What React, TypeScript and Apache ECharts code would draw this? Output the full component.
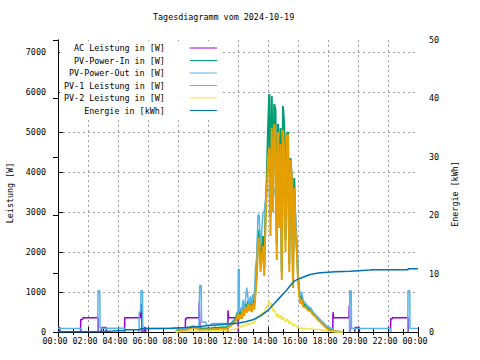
import { useEffect, useRef } from 'react';
import * as echarts from 'echarts';

const FONT = '"DejaVu Sans Mono", "Liberation Mono", monospace';
const FS = 8.4;

const titleText = 'Tagesdiagramm vom 2024-10-19';
const seriesNames = [
  'AC Leistung in [W]',
  'PV-Power-In in [W]',
  'PV-Power-Out in [W]',
  'PV-1 Leistung in [W]',
  'PV-2 Leistung in [W]',
  'Energie in [kWh]',
];
const seriesColors = ['#9400d3', '#009e73', '#56b4e9', '#e69f00', '#f0e442', '#0072b2'];

// AC Leistung (purple)
const acTimes = [
  '00:00', '00:07', '00:08', '00:09', '01:30', '01:31', '01:39', '01:40', '02:40', '02:41', '02:42',
  '02:53', '02:54', '03:13', '03:14', '03:15', '04:26', '04:27', '05:30', '05:31', '05:35', '05:36', '05:37',
  '05:44', '05:45', '05:50', '05:51', '05:52', '08:29', '08:30', '08:34', '08:35', '09:24', '09:25', '09:27', '09:28', '09:29',
  '11:19', '11:20', '11:22', '12:00', '12:01', '12:02', '14:01', '14:03', '14:04', '15:39', '15:41', '15:42',
  '18:19', '18:20', '18:22', '19:24', '19:25', '19:27', '19:28', '19:29', '19:47', '19:48', '20:05', '20:06', '20:07',
  '22:10', '22:11', '22:17', '22:18', '23:20', '23:21',
];
const acValues = [
  110, 110, 0, null, 0, 315, 315, 357, 357, 0, null,
  0, 110, 110, 0, null, 0, 357, 357, 687, 687, 0, null,
  0, 110, 110, 0, null, 0, 330, 330, 357, 357, 745, 745, 0, null,
  0, 540, 357, 357, 0, null, 3590, 3590, null, 3140, 3140, null,
  0, 496, 357, 357, 662, 662, 0, null, 0, 110, 110, 0, null,
  0, 330, 330, 357, 357, 0,
];

// Daytime sample times for PV-In, PV-1, PV-2
const pvTimes = [
  '07:50', '08:00', '08:10', '08:20', '08:30', '08:40', '08:50', '09:00', '09:10', '09:20', '09:30', '09:40', '09:50',
  '10:00', '10:10', '10:20', '10:30', '10:40', '10:50', '11:00', '11:10', '11:20', '11:30', '11:40', '11:50',
  '12:00', '12:05', '12:10', '12:15', '12:20', '12:25', '12:30', '12:35', '12:40', '12:45', '12:50', '12:55',
  '13:00', '13:05', '13:10', '13:15', '13:20', '13:25', '13:30', '13:35', '13:40', '13:45', '13:50', '13:55',
  '14:00', '14:05', '14:10', '14:15', '14:20', '14:25', '14:30', '14:35', '14:40', '14:45', '14:50', '14:55',
  '15:00', '15:05', '15:10', '15:15', '15:20', '15:25', '15:30', '15:35', '15:40', '15:45', '15:50', '15:55',
  '16:00', '16:05', '16:10', '16:15', '16:20', '16:25',
  '16:30', '16:40', '16:50', '17:00', '17:10', '17:20', '17:30', '17:40', '17:50', '18:00', '18:10', '18:20',
  '18:30', '18:40', '18:50', '19:00',
];
const pvInValues = [
  0, 25, 45, 60, 70, 85, 120, 140, 130, 100, 90, 85, 90, 95, 90, 100, 110, 100, 115, 120, 115, 150, 200, 260, 330,
  520, 380, 520, 400, 640, 470, 700, 560, 780, 600, 760, 580,
  820, 650, 1070, 1500, 2450, 2550, 1700, 2050, 2400, 1600, 3000, 3850,
  5080, 5950, 2900, 5900, 3400, 5700, 5550, 2200, 5200, 2900, 5100, 1500,
  5650, 5150, 2300, 4960, 5000, 1700, 4350, 3900, 1300, 3850, 2700, 2150,
  1450, 1000, 800, 900, 720, 680,
  660, 590, 570, 470, 420, 340, 280, 210, 140, 90, 55, 35, 20, 12, 8, 0,
];
const pv1Values = [
  0, 15, 30, 40, 50, 60, 90, 110, 100, 70, 60, 55, 60, 65, 60, 70, 75, 70, 80, 85, 80, 110, 150, 200, 260,
  450, 300, 450, 330, 560, 400, 620, 480, 700, 520, 680, 500,
  720, 560, 950, 1350, 2250, 2350, 1500, 1850, 2150, 1400, 2700, 3500,
  4350, 4600, 2400, 5100, 3000, 5200, 4950, 1800, 5000, 2600, 4700, 1300,
  5050, 4500, 2000, 4900, 4950, 1500, 4300, 3800, 1100, 3600, 2500, 2000,
  1300, 900, 700, 820, 650, 620,
  620, 540, 520, 430, 380, 300, 250, 180, 120, 70, 40, 25, 15, 10, 8, 0,
];
const pv2Values = [
  0, 5, 8, 10, 12, 15, 20, 25, 25, 20, 20, 20, 25, 25, 25, 30, 30, 30, 35, 35, 35, 40, 50, 60, 70,
  120, 100, 140, 130, 170, 150, 190, 170, 220, 180, 230, 200,
  250, 220, 290, 340, 410, 380, 450, 400, 500, 450, 580, 640,
  700, 780, 650, 720, 520, 560, 480, 380, 450, 350, 420, 300,
  380, 330, 250, 320, 300, 200, 260, 220, 150, 200, 170, 130,
  120, 100, 90, 100, 80, 90,
  90, 80, 75, 70, 60, 60, 55, 45, 30, 20, 10, 5, 0, 0, 0, 0,
];

// PV-Power-Out (light blue)
const pvOutTimes = [
  '00:00', '01:33', '01:34', '01:35', '02:39', '02:40', '02:47', '02:48', '02:55', '04:27', '04:28', '04:29',
  '05:24', '05:25', '05:31', '05:32', '05:38', '05:39', '07:50', '08:00', '08:10', '08:20', '08:30', '08:40',
  '08:50', '09:00', '09:10', '09:20', '09:24', '09:25', '09:27', '09:33', '09:34', '09:50', '09:55', '10:10',
  '10:15', '11:20', '11:21', '11:30', '11:40', '11:50', '12:00', '12:01', '12:05', '12:06',
  '12:10', '12:15', '12:20', '12:25', '12:30', '12:35', '12:40', '12:45', '12:50', '12:55',
  '13:00', '13:05', '13:10', '13:15', '13:20', '13:25', '13:30', '13:35', '13:40', '13:45', '13:50', '13:55',
  '14:00', '14:05', '14:10', '14:15', '14:20', '14:25', '14:30', '14:35', '14:40', '14:45', '14:50', '14:55',
  '15:00', '15:05', '15:10', '15:15', '15:20', '15:25', '15:30', '15:35', '15:40', '15:45', '15:50', '15:55',
  '16:00', '16:05', '16:10', '16:15', '16:20', '16:25',
  '16:30', '16:40', '16:50', '17:00', '17:10', '17:20', '17:30', '17:40', '17:50', '18:00', '18:10', '18:19',
  '18:20', '18:21', '19:26', '19:27', '19:33', '19:34', '22:10', '22:11', '22:12', '23:19', '23:20', '23:27',
  '23:28', '24:00',
];
const pvOutValues = [
  88, 88, 0, null, 0, 1034, 1034, 110, 95, 95, 0, null,
  0, 500, 500, 1034, 1034, 88, 88, 70, 75, 80, 85, 70,
  100, 125, 115, 90, 90, 600, 1160, 1160, 250, 250, 170, 165,
  210, 210, 140, 170, 230, 300, 350, 1570, 1570, 500,
  600, 480, 800, 560, 820, 1110, 850, 680, 900, 700,
  950, 780, 1600, 1900, 2940, 2900, 2100, 2500, 2980, 3020, 3300, 3560,
  3560, 3560, 2900, 3560, 3300, 3560, 3560, 2200, 3560, 2900, 3560, 1600,
  3560, 3560, 2400, 3560, 3560, 1800, 3560, 3560, 1400, 3560, 2900, 2300,
  1500, 1100, 900, 1000, 800, 760,
  720, 640, 600, 500, 430, 370, 300, 240, 180, 130, 100, 85,
  0, null, 0, 1034, 1034, 88, 88, 0, null, 0, 1034, 1034,
  88, 88,
];

// Energie (kWh, right axis)
const energyTimes = [
  '00:00', '02:40', '02:41', '03:40', '03:41', '04:27', '04:28', '05:30', '05:31', '06:30', '07:30', '08:30',
  '09:30', '10:00', '10:30', '11:00', '11:30', '12:00', '12:30', '13:00', '13:30', '14:00', '14:15', '14:30',
  '14:45', '15:00', '15:15', '15:30', '15:45', '16:00', '16:15', '16:30', '16:45', '17:00', '17:15', '17:30',
  '18:00', '18:30', '19:30', '20:00', '20:45', '21:00', '23:20', '23:21', '24:00',
];
const energyValues = [
  0.05, 0.05, 0.15, 0.15, 0.25, 0.25, 0.4, 0.4, 0.55, 0.6, 0.65, 0.75,
  0.95, 1.1, 1.2, 1.3, 1.4, 1.5, 1.75, 2.1, 2.75, 3.7, 4.4, 5.1,
  5.8, 6.5, 7.2, 8.0, 8.7, 9.05, 9.3, 9.55, 9.8, 9.95, 10.05, 10.15,
  10.25, 10.3, 10.4, 10.5, 10.6, 10.65, 10.65, 10.85, 10.85,
];

const toH = (t: string) => {
  const [h, m] = t.split(':').map(Number);
  return h + m / 60;
};
const pts = (times: string[], vals: (number | null)[]) =>
  times.map((t, i) => [toH(t), vals[i] === null ? '-' : vals[i]]);

const fmtHour = (v: number) => `${String(Math.round(v) % 24).padStart(2, '0')}:00`;
const fmtPlain = (v: number) => String(v);

const txt = { fontFamily: FONT, fontSize: FS, color: '#000' };
const gridLine = { color: '#a0a0a0', type: [2, 3], width: 1 };

function buildOption() {
  const datasets = [
    pts(acTimes, acValues),
    pts(pvTimes, pvInValues),
    pts(pvOutTimes, pvOutValues),
    pts(pvTimes, pv1Values),
    pts(pvTimes, pv2Values),
    pts(energyTimes, energyValues),
  ];
  const widths = [1.5, 2, 1.5, 2, 1.5, 1.5];
  return {
    animation: false,
    backgroundColor: '#fff',
    title: {
      text: titleText,
      left: 153,
      top: 13,
      padding: 0,
      textStyle: { ...txt, fontWeight: 'normal' },
    },
    legend: {
      orient: 'vertical',
      left: 60,
      top: 41,
      align: 'right',
      padding: [2, 5, 2.5, 4],
      itemGap: 2.5,
      itemWidth: 27,
      itemHeight: 1,
      icon: 'rect',
      selectedMode: false,
      backgroundColor: '#fff',
      data: seriesNames,
      textStyle: { ...txt, lineHeight: 10, padding: [0, 20, 0, 0] },
    },
    grid: { left: 58, right: 62, top: 40, bottom: 28, containLabel: false, outerBoundsMode: 'none' },
    xAxis: [
      {
        type: 'value',
        min: 0,
        max: 24,
        interval: 2,
        position: 'bottom',
        axisLine: { show: true, lineStyle: { color: '#000', width: 1 } },
        axisTick: { show: true, inside: true, length: 5, lineStyle: { color: '#000' } },
        minorTick: { show: true, splitNumber: 2, length: 3, lineStyle: { color: '#000' } },
        axisLabel: { ...txt, margin: 5, padding: [0, 6, 0, 0], formatter: fmtHour },
        splitLine: { show: true, showMinLine: false, showMaxLine: false, lineStyle: gridLine },
      },
      {
        type: 'value',
        min: 0,
        max: 24,
        interval: 2,
        position: 'top',
        axisLine: { show: true, lineStyle: { color: '#000', width: 1 } },
        axisTick: { show: true, inside: true, length: 5, lineStyle: { color: '#000' } },
        minorTick: { show: true, splitNumber: 2, length: 3, lineStyle: { color: '#000' } },
        axisLabel: { show: false },
        splitLine: { show: false },
      },
    ],
    yAxis: [
      {
        type: 'value',
        min: 0,
        max: 7300,
        interval: 1000,
        position: 'left',
        name: 'Leistung [W]',
        nameLocation: 'middle',
        nameRotate: 90,
        nameGap: 34,
        nameTextStyle: { ...txt, lineHeight: 10, padding: [0, 14, 0, 0] },
        axisLine: { show: true, lineStyle: { color: '#000', width: 1 } },
        axisTick: { show: true, inside: true, length: 5, lineStyle: { color: '#000' } },
        axisLabel: { ...txt, margin: 12, showMaxLabel: false, formatter: fmtPlain },
        splitLine: { show: true, showMinLine: false, showMaxLine: false, lineStyle: gridLine },
      },
      {
        type: 'value',
        min: 0,
        max: 50,
        interval: 10,
        position: 'right',
        name: 'Energie [kWh]',
        nameLocation: 'middle',
        nameRotate: 90,
        nameGap: 28,
        nameTextStyle: { ...txt, lineHeight: 10, padding: [0, 16, 0, 0] },
        axisLine: { show: true, lineStyle: { color: '#000', width: 1 } },
        axisTick: { show: true, inside: true, length: 5, lineStyle: { color: '#000' } },
        axisLabel: { ...txt, margin: 11, formatter: fmtPlain },
        splitLine: { show: false },
      },
    ],
    series: seriesNames.map((name, i) => ({
      name,
      type: 'line',
      xAxisIndex: 0,
      yAxisIndex: i === 5 ? 1 : 0,
      data: datasets[i],
      color: seriesColors[i],
      showSymbol: false,
      symbol: 'none',
      connectNulls: false,
      lineStyle: { width: widths[i], color: seriesColors[i] },
      emphasis: { disabled: true },
    })),
  };
}

export default function App() {
  const ref = useRef<HTMLDivElement>(null);
  useEffect(() => {
    if (!ref.current) return;
    const chart = echarts.init(ref.current, null, { renderer: 'svg' });
    chart.setOption(buildOption() as any);
    return () => chart.dispose();
  }, []);
  return (
    <div
      ref={ref}
      style={{ position: 'absolute', left: 0, top: 0, width: 480, height: 360 }}
    />
  );
}
